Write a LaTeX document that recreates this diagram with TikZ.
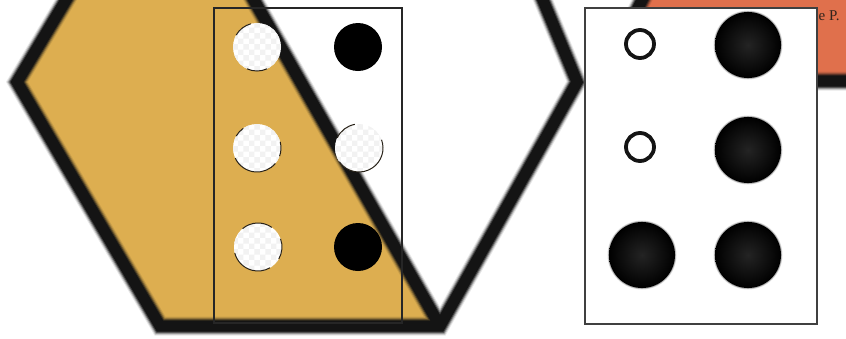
\documentclass[tikz,border=0pt]{standalone}
\usepackage{fontspec}
\setmainfont{Liberation Serif}
\usetikzlibrary{patterns}
\definecolor{hexorange}{RGB}{221,174,80}
\definecolor{topcoral}{RGB}{224,112,76}
\definecolor{hexline}{RGB}{20,20,20}
\definecolor{ringline}{RGB}{40,34,24}
\definecolor{labeltext}{RGB}{50,36,28}
\tikzset{
  blurA/.style={draw=hexline, line width=19pt, opacity=.10, line join=miter},
  blurB/.style={draw=hexline, line width=17pt, opacity=.2, line join=miter},
  blurC/.style={draw=hexline, line width=15pt, opacity=.35, line join=miter},
  blurD/.style={draw=hexline, line width=13pt, opacity=.6, line join=miter},
  blurE/.style={draw=hexline, line width=11pt, line join=miter},
  thinbox/.style={draw=black!85, line width=1.3pt},
  rightbox/.style={draw=black!75, fill=white, line width=1.8pt},
  rimarc/.style={draw=ringline, line width=1pt},
  ring/.style={draw=black!92, line width=3.8pt},
}
\newcommand{\holedot}[1]{%
  \fill[white] (#1) circle (24);
  \fill[pattern=checkerboard, pattern color=black!5] (#1) circle (24);
}
\newcommand{\rimpart}[3]{%
  \draw[rimarc] (#1) ++(-#2:24) arc[start angle=-#2, end angle=-#3, radius=24];
}
\newcommand{\bigdot}[1]{%
  \fill[black, opacity=.12] (#1) circle (34.5);
  \fill[black, opacity=.25] (#1) circle (33.8);
  \shade[inner color=black!86, outer color=black] (#1) circle (33);
}
\begin{document}
\begin{tikzpicture}[x=1pt,y=-1pt]
\useasboundingbox (0,0) rectangle (846,338);
\clip (0,0) rectangle (846,338);
% hexagon vertices
\coordinate (TL) at (162,-161);
\coordinate (L)  at (17,82);
\coordinate (BL) at (160,326);
\coordinate (BR) at (440,326);
\coordinate (R)  at (577,82);
\coordinate (TR) at (476,-161);
% coral shape corners
\coordinate (C1) at (662,-40);
\coordinate (C2) at (612,60);
\coordinate (C3) at (640,81);
\coordinate (C4) at (870,81);
\coordinate (C5) at (870,-40);
% fills
\fill[hexorange] (TL) -- (L) -- (BL) -- (BR) -- cycle;
\fill[topcoral] (C1) -- (C2) -- (C3) -- (C4) -- (C5) -- cycle;
% blurred outlines
\foreach \s in {blurA,blurB,blurC,blurD,blurE}{
  \path[\s] (TL) -- (L) -- (BL) -- (BR) -- (R) -- (TR) -- cycle (TL) -- (BR);
  \path[\s] (C1) -- (C2) -- (C3) -- (C4);
}
% left box
\draw[thinbox] (214,8) rectangle (402,323);
% left box dots
\coordinate (a1) at (257,47);
\coordinate (a2) at (257,148);
\coordinate (a3) at (258,247);
\coordinate (b1) at (358,47);
\coordinate (b2) at (359,148);
\coordinate (b3) at (358,247);
\holedot{a1}\holedot{a2}\holedot{a3}\holedot{b2}
\rimpart{a1}{105}{150}\rimpart{a1}{245}{295}
\rimpart{a2}{125}{150}\rimpart{a2}{205}{320}\rimpart{a2}{340}{375}
\rimpart{b2}{100}{155}\rimpart{b2}{215}{380}
\rimpart{a3}{55}{130}\rimpart{a3}{195}{300}\rimpart{a3}{330}{380}
\fill[black] (b1) circle (24);
\fill[black] (b3) circle (24);
% label on coral shape
\node[anchor=base west, inner sep=0pt, font=\fontsize{15}{18}\selectfont, text=labeltext] (lbl) at (818.5,20) {e P.};
% right box
\draw[rightbox] (585,8) rectangle (817,324);
\coordinate (r1) at (640,44);
\coordinate (r2) at (640,147);
\coordinate (r3) at (642,255);
\coordinate (s1) at (748,45);
\coordinate (s2) at (748,150);
\coordinate (s3) at (748,255);
\draw[ring] (r1) circle (14);
\draw[ring] (r2) circle (14);
\bigdot{r3}\bigdot{s1}\bigdot{s2}\bigdot{s3}
\end{tikzpicture}
\end{document}
